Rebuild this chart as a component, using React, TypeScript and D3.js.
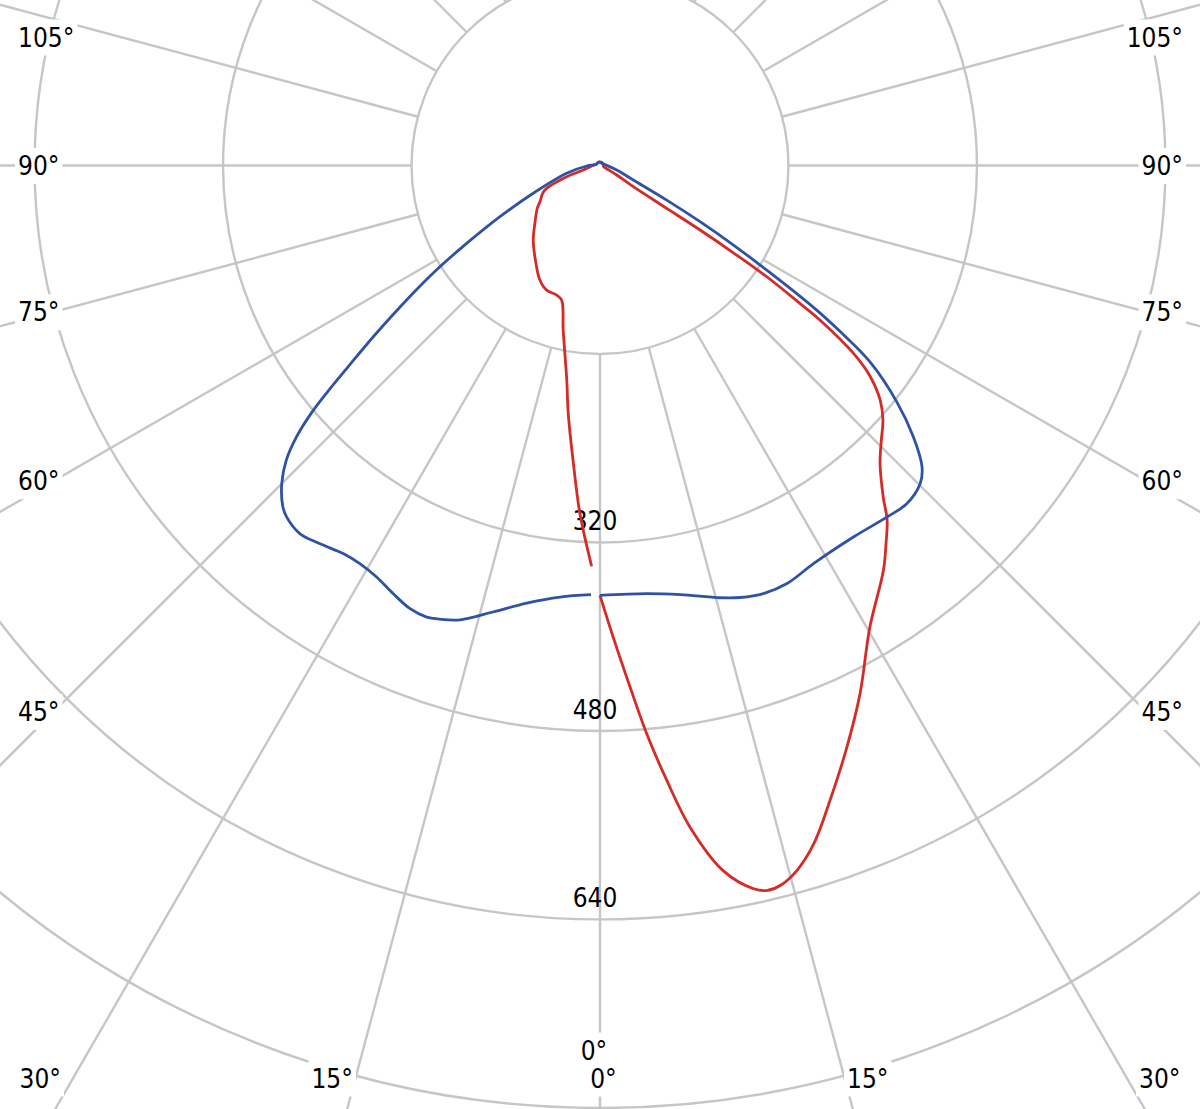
import React, { useEffect, useRef } from "react";
import * as d3 from "d3";

const W = 1200;
const H = 1109;
const CX = 600;
const CY = 165.5;

// grid rings (cd) and labelled rings
const gridValues = [160, 320, 480, 640, 800];
const radialTickValues = [320, 480, 640];
const radialTickLabels = ["320", "480", "640"];

// spokes (degrees from nadir, full circle)
const spokeAngles = [0, 15, 30, 45, 60, 75, 90, 105, 120, 135, 150, 165, 180, 195, 210, 225, 240, 255, 270, 285, 300, 315, 330, 345];

// angle labels shown on each half
const angleTickValues = [0, 15, 30, 45, 60, 75, 90, 105];

// series: [gamma (deg from nadir), intensity (cd)]
const blueLeft: [number, number][] = [
  [1.2, 364.4], [5.3, 367.9], [9.5, 376.6], [13.5, 389.8], [17.1, 403.5], [19.5, 408.5],
  [21.0, 410.6], [23.2, 409.3], [25.8, 403.6], [28.5, 397.5], [31.1, 394.7], [33.5, 395.1],
  [36.5, 399.5], [39.2, 403.2], [41.7, 399.8], [42.9, 395.5], [45.0, 382.1], [46.8, 365.3],
  [48.2, 345.6], [49.4, 322.4], [50.3, 300.4], [51.35, 274.1], [52.84, 243.1], [54.7, 208.2],
  [56.18, 184.1], [57.69, 160.8], [59.7, 131.1], [62.9, 95.4], [67.4, 61.4], [76.8, 29.1],
  [87.8, 11.3], [100, 4], [120, 3], [150, 3], [180, 3],
];

const blueRight: [number, number][] = [
  [0, 364.9], [6.2, 365.6], [10.6, 370.6], [15.5, 380.8], [18.0, 385.6], [20.9, 389.0],
  [24.1, 388.8], [28.2, 383.5], [34.3, 381.8], [39.2, 385.2], [42.2, 387.6],
  [45.2, 383.1], [46.9, 374.4], [49.1, 352.0], [51.45, 322.3], [53.95, 283.7], [55.33, 247.9],
  [56.16, 225.0], [56.83, 203.0], [57.9, 167.1], [59.2, 131.9], [60.7, 97.4], [62.6, 63.8],
  [66.5, 30.8], [74.9, 14.7], [90, 6], [110, 3.5], [150, 3], [180, 3],
];

const redLeft: [number, number][] = [
  [1.2, 340.3], [3.3, 296.0], [5.1, 254.0], [7.3, 212.2], [8.8, 184.4], [12.6, 143.2],
  [15.9, 118.8], [18.5, 116.0], [23.2, 115.1], [27.7, 109.8], [33.2, 99.3], [41.8, 85.0],
  [48.4, 73.9], [55.7, 64.5], [58.9, 59.5], [64.1, 54.1], [66.8, 49.3], [71.4, 29.8],
  [74.9, 14.7], [90, 6], [110, 3.5], [150, 3], [180, 3],
];

const redRight: [number, number][] = [
  [0, 364.9], [1.6, 400.5], [3.3, 443.5], [4.7, 484.0], [6.2, 525.1], [7.75, 566.9],
  [9.9, 607.6], [12.0, 627.7], [13.0, 631.6], [14.05, 630.1], [15.6, 621.4], [17.5, 603.7],
  [19.9, 573.4], [23.0, 536.4], [26.2, 499.9], [30.3, 454.0], [35.0, 419.5], [37.1, 402.5],
  [39.0, 387.3], [40.5, 370.2], [43.2, 347.3], [45.7, 333.7], [48.0, 323.2], [50.05, 310.3],
  [52.0, 291.2], [53.45, 267.9], [54.9, 228.4], [55.4, 206.4], [56.3, 170.2], [56.8, 135.3],
  [57.2, 101.1], [57.3, 67.3], [57.5, 33.5], [60.4, 16.3], [65, 6], [75, 3], [90, 3],
  [180, 3],
];

const RED = "#d52b27";
const BLUE = "#2f52a4";
const GRID = "#c6c6c6";
const FONT = "'DejaVu Sans Condensed', 'DejaVu Sans', sans-serif";
const FONT_SIZE = 26;

export default function App() {
  const ref = useRef<SVGSVGElement>(null);

  useEffect(() => {
    const svg = d3.select(ref.current);
    svg.selectAll("*").remove();

    const r = d3.scaleLinear().domain([0, 800]).range([0, 942.4]);
    const toRad = (g: number) => (g * Math.PI) / 180;

    svg.append("rect").attr("width", W).attr("height", H).attr("fill", "#fff");

    const g = svg.append("g").attr("transform", `translate(${CX},${CY})`);

    // rings
    g.append("g")
      .selectAll("circle")
      .data(gridValues)
      .join("circle")
      .attr("r", (d) => r(d))
      .attr("fill", "none")
      .attr("stroke", GRID)
      .attr("stroke-width", 2.4);

    // spokes
    g.append("g")
      .selectAll("line")
      .data(spokeAngles)
      .join("line")
      .each(function (a) {
        const p0 = d3.pointRadial(Math.PI - toRad(a), r(160));
        const p1 = d3.pointRadial(Math.PI - toRad(a), 1600);
        d3.select(this)
          .attr("x1", p0[0])
          .attr("y1", p0[1])
          .attr("x2", p1[0])
          .attr("y2", p1[1]);
      })
      .attr("stroke", GRID)
      .attr("stroke-width", 2.4);

    // angle labels
    type Lab = { text: string; x: number; y: number; anchor: string };
    const labs: Lab[] = [];
    [-1, 1].forEach((side) => {
      angleTickValues.forEach((v) => {
        const a = toRad(v);
        const s = Math.sin(a);
        const c = Math.cos(a);
        const tSide = s > 1e-6 ? 600 / s : Infinity;
        const tBottom = c > 1e-6 ? (H - CY) / c : Infinity;
        const tTop = c < -1e-6 ? CY / -c : Infinity;
        const t = Math.min(tSide, tBottom, tTop);
        let lab: Lab;
        if (t === tBottom) {
          let x = CX + side * (tBottom * s + Math.min(15, v));
          let y = 1078;
          if (v === 0 && side < 0) {
            y -= 28;
            x -= 6;
          } else if (v === 0) {
            x += 3.5;
          }
          lab = { text: `${v}°`, x, y, anchor: "middle" };
        } else {
          let y = CY + 0.91 * t * c;
          y = Math.max(37, Math.min(1078, y));
          lab = side < 0
            ? { text: `${v}°`, x: 18, y, anchor: "start" }
            : { text: `${v}°`, x: 1183, y, anchor: "end" };
        }
        labs.push(lab);
      });
    });

    const lg = svg.append("g");
    labs.forEach((l) => {
      const grp = lg.append("g");
      const bg = grp.append("rect").attr("fill", "#fff");
      const t = grp
        .append("text")
        .attr("x", l.x)
        .attr("y", l.y + 9.5)
        .attr("text-anchor", l.anchor)
        .attr("font-family", FONT)
        .attr("font-size", FONT_SIZE)
        .attr("fill", "#000")
        .text(l.text);
      const bb = (t.node() as SVGTextElement).getBBox();
      const pad = 3;
      bg.attr("x", bb.x - pad)
        .attr("y", bb.y - pad)
        .attr("width", bb.width + 2 * pad)
        .attr("height", bb.height + 2 * pad);
    });

    // radial tick labels
    g.append("g")
      .selectAll("text")
      .data(radialTickValues)
      .join("text")
      .attr("x", -5)
      .attr("y", (d) => r(d) - 12)
      .attr("text-anchor", "middle")
      .attr("font-family", FONT)
      .attr("font-size", FONT_SIZE)
      .attr("fill", "#000")
      .text((d, i) => radialTickLabels[i]);

    // curves
    const lineLeft = d3
      .lineRadial<[number, number]>()
      .angle((d) => Math.PI + toRad(d[0]))
      .radius((d) => r(d[1]))
      .curve(d3.curveCatmullRom.alpha(0.5));
    const lineRight = d3
      .lineRadial<[number, number]>()
      .angle((d) => Math.PI - toRad(d[0]))
      .radius((d) => r(d[1]))
      .curve(d3.curveCatmullRom.alpha(0.5));

    const series = [
      { data: redLeft, line: lineLeft, color: RED },
      { data: redRight, line: lineRight, color: RED },
      { data: blueLeft, line: lineLeft, color: BLUE },
      { data: blueRight, line: lineRight, color: BLUE },
    ];
    series.forEach((s) => {
      g.append("path")
        .attr("d", s.line(s.data) as string)
        .attr("fill", "none")
        .attr("stroke", s.color)
        .attr("stroke-width", 2.8)
        .attr("stroke-linejoin", "round")
        .attr("stroke-linecap", "butt");
    });
  }, []);

  return (
    <svg
      ref={ref}
      width={W}
      height={H}
      style={{ position: "absolute", left: 0, top: 0, display: "block", background: "#fff" }}
    />
  );
}
